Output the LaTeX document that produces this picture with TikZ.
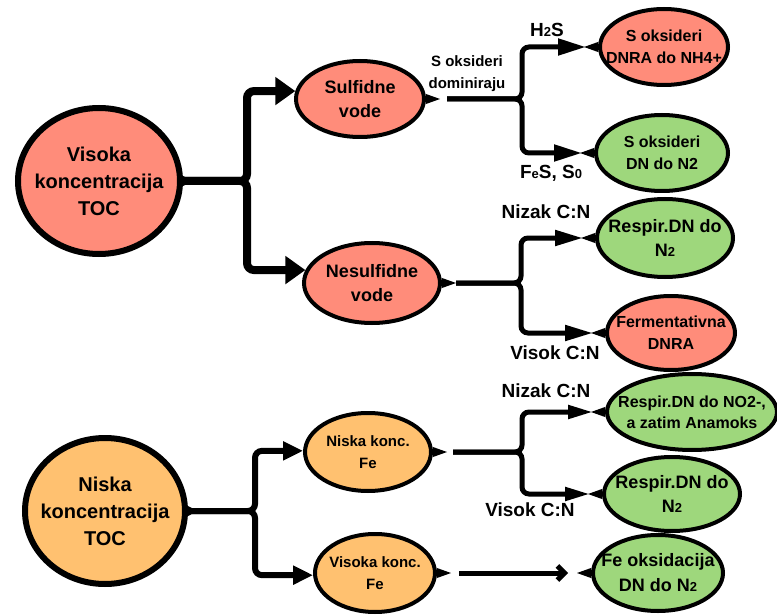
\documentclass[tikz,border=0pt]{standalone}
\usepackage{fontspec}
\setmainfont{Liberation Sans}
\usetikzlibrary{shapes.geometric,arrows.meta,calc}

\definecolor{salmon}{HTML}{FF8C7A}
\definecolor{apricot}{HTML}{FFC170}
\definecolor{leaf}{HTML}{9ED77C}

\newcommand{\spike}[2]{\fill ($(#1)+(0,-5)$) -- ($(#1)+(#2,0)$) -- ($(#1)+(0,5)$) -- cycle;}
\newcommand{\lo}[1]{{\fontsize{13}{13}\selectfont #1}}

\tikzset{
  bubble/.style={ellipse, draw, line width=4pt, inner sep=0pt},
  bigbubble/.style={bubble, line width=6pt},
  inside/.style={align=center, inner sep=0pt},
  note/.style={font=\bfseries\fontsize{19}{23}\selectfont, inner sep=0pt},
  fork/.style={line width=5pt, rounded corners=7pt},
}

\begin{document}
\begin{tikzpicture}[x=1pt, y=-1pt]
                \useasboundingbox (0,0) rectangle (777,615);

                % left column
                \node[bigbubble, fill=salmon, minimum width=162pt, minimum height=146pt] (vtoc) at (99,181) {};
                \node[inside, font=\bfseries\fontsize{20}{27}\selectfont] (vtoct) at (vtoc) {Visoka\\koncentracija\\TOC};
                \node[bigbubble, fill=apricot, minimum width=160pt, minimum height=146pt] (ntoc) at (105,511) {};
                \node[inside, font=\bfseries\fontsize{20}{27}\selectfont] (ntoct) at (ntoc) {Niska\\koncentracija\\TOC};

                % middle column
                \node[bubble, fill=salmon, minimum width=128pt, minimum height=76pt] (sulf) at (360,99) {};
                \node[inside, font=\bfseries\fontsize{18}{24}\selectfont] (sulft) at (sulf) {Sulfidne\\vode};
                \node[bubble, fill=salmon, minimum width=136pt, minimum height=80pt] (nesul) at (372,283) {};
                \node[inside, font=\bfseries\fontsize{18}{24}\selectfont] (nesult) at (nesul) {Nesulfidne\\vode};
                \node[bubble, fill=apricot, minimum width=126pt, minimum height=78pt] (nfe) at (368,452) {};
                \node[inside, font=\bfseries\fontsize{15}{22}\selectfont] (nfet) at (nfe) {Niska konc.\\Fe};
                \node[bubble, fill=apricot, minimum width=120pt, minimum height=78pt] (vfe) at (375,573) {};
                \node[inside, font=\bfseries\fontsize{15}{22}\selectfont] (vfet) at (vfe) {Visoka konc.\\Fe};

                % right column
                \node[bubble, fill=salmon, minimum width=128pt, minimum height=76pt] (dnra) at (664,47) {};
                \node[inside, font=\bfseries\fontsize{16}{22}\selectfont] (dnrat) at (dnra) {S oksideri\\DNRA do NH4+};
                \node[bubble, fill=leaf, minimum width=132pt, minimum height=76pt] (dnfe) at (662,153) {};
                \node[inside, font=\bfseries\fontsize{16}{22}\selectfont] (dnfet) at (dnfe) {S oksideri\\DN do N2};
                \node[bubble, fill=leaf, minimum width=136pt, minimum height=78pt] (resp1) at (665,238) {};
                \node[inside, font=\bfseries\fontsize{18}{24}\selectfont] (resp1t) at (resp1) {Respir.DN do\\N\lo{2}};
                \node[bubble, fill=salmon, minimum width=128pt, minimum height=74pt] (ferm) at (671,333) {};
                \node[inside, font=\bfseries\fontsize{16}{22}\selectfont] (fermt) at (ferm) {Fermentativna\\DNRA};
                \node[bubble, fill=leaf, minimum width=170pt, minimum height=76pt] (anam) at (692,412) {};
                \node[inside, font=\bfseries\fontsize{16}{21}\selectfont] (anamt) at (anam) {Respir.DN do NO2-,\\a zatim Anamoks};
                \node[bubble, fill=leaf, minimum width=136pt, minimum height=74pt] (resp2) at (672,494) {};
                \node[inside, font=\bfseries\fontsize{18}{24}\selectfont] (resp2t) at (resp2) {Respir.DN do\\N\lo{2}};
                \node[bubble, fill=leaf, minimum width=130pt, minimum height=76pt] (feox) at (658,573) {};
                \node[inside, font=\bfseries\fontsize{18}{25}\selectfont] (feoxt) at (feox) {Fe oksidacija\\DN do N\lo{2}};

                % spikes on the bubbles
                \spike{vtoc.east}{10}
                \spike{ntoc.east}{10}
                \spike{sulf.east}{14}
                \spike{nesul.east}{14}
                \spike{nfe.east}{14}
                \spike{vfe.east}{14}
                \spike{dnra.west}{-14}
                \spike{dnfe.west}{-14}
                \spike{resp1.west}{-14}
                \spike{ferm.west}{-14}
                \spike{anam.west}{-14}
                \spike{resp2.west}{-14}
                \spike{feox.west}{-14}

                % forks
                \coordinate (vj) at (247,181);
                \draw[fork, line width=8pt, -{Triangle[length=20pt,width=27pt]}] (vtoc.east) -- (vj) |- (sulf.173);
                \draw[fork, line width=8pt, -{Triangle[length=20pt,width=27pt]}] (vtoc.east) -- (vj) |- (nesul.169);

                \coordinate (nj) at (255,511);
                \draw[fork, line width=6pt, shorten <=4pt, -{Triangle[length=20pt,width=18pt]}] (ntoc.east) -- (nj) |- (nfe.179);
                \draw[fork, line width=6pt, shorten <=4pt, -{Triangle[length=20pt,width=18pt]}] (ntoc.east) -- (nj) |- (vfe.182);

                \coordinate (sj) at (522,99);
                \draw[fork, shorten <=21pt, shorten >=12pt, -{Triangle[length=28pt,width=16pt]}] (sulf.east) -- (sj) |- (dnra.west);
                \draw[fork, shorten <=21pt, shorten >=12pt, -{Triangle[length=28pt,width=16pt]}] (sulf.east) -- (sj) |- (dnfe.west);

                \coordinate (ej) at (521,283);
                \draw[fork, shorten <=14pt, shorten >=12pt, -{Triangle[length=28pt,width=15pt]}] (nesul.east) -- (ej) |- (resp1.west);
                \draw[fork, shorten <=14pt, shorten >=12pt, -{Triangle[length=28pt,width=15pt]}] (nesul.east) -- (ej) |- (ferm.west);

                \coordinate (fj) at (522,452);
                \draw[fork, shorten <=20pt, shorten >=12pt, -{Triangle[length=25pt,width=13pt]}] (nfe.east) -- (fj) |- (anam.west);
                \draw[fork, shorten <=20pt, shorten >=12pt, -{Triangle[length=25pt,width=13pt]}] (nfe.east) -- (fj) |- (resp2.west);

                \draw[line width=5pt, shorten <=22pt, shorten >=23pt, -{Straight Barb[length=7pt,width=14pt]}] (vfe.east) -- (feox.west);

                % labels
                \node[inside, font=\bfseries\fontsize{15}{22}\selectfont] (sdom) at (467,74) {S oksideri\\dominiraju};
                \node[note] (h2s) at (547,30) {H\lo{2}S};
                \node[note] (fes) at (551,173) {F\lo{e}S, S\lo{0}};
                \node[note] (nizak1) at (546,212) {Nizak C:N};
                \node[note] (visok1) at (555,353) {Visok C:N};
                \node[note] (nizak2) at (546,391) {Nizak C:N};
                \node[note] (visok2) at (530,510) {Visok C:N};
            \end{tikzpicture}
\end{document}
